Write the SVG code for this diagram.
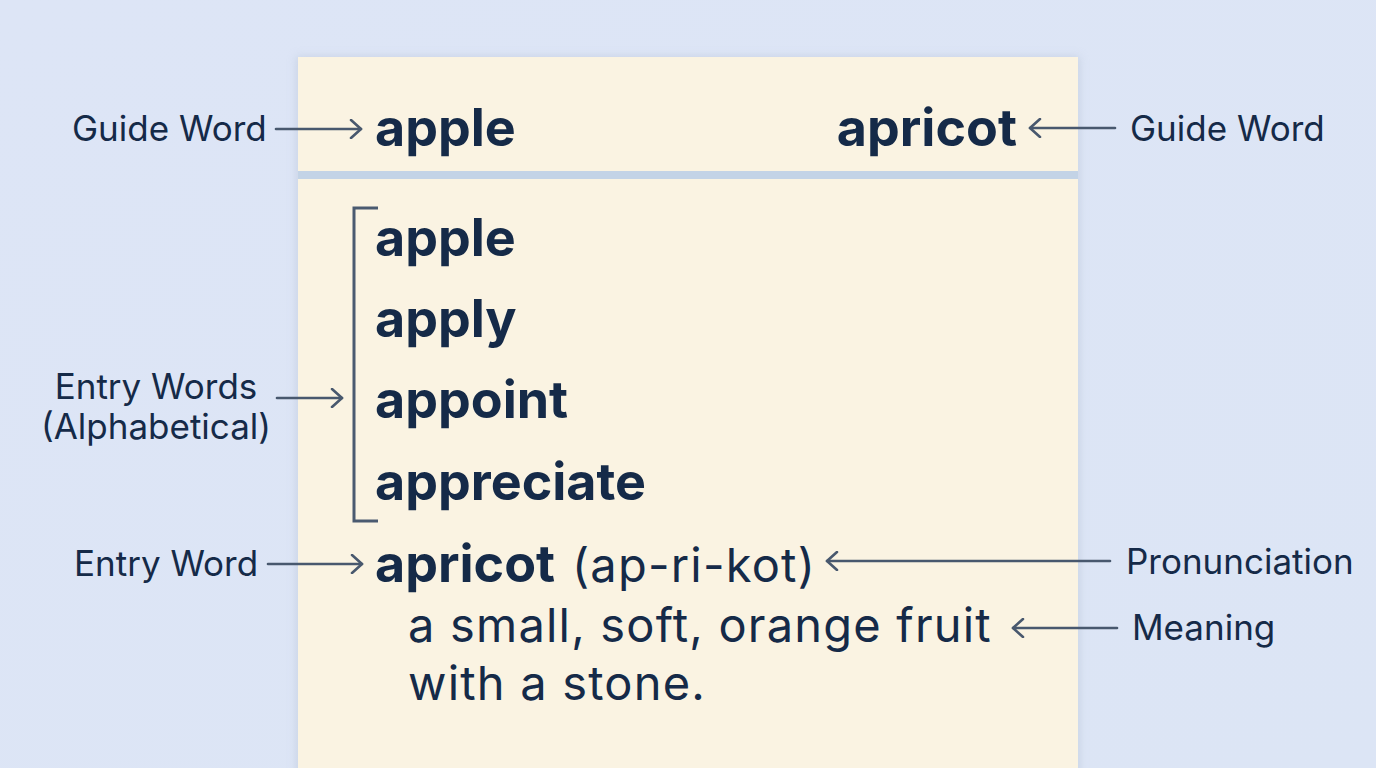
<svg xmlns="http://www.w3.org/2000/svg" width="1376" height="768" viewBox="0 0 1376 768">
<defs>
<linearGradient id="bg" x1="0" y1="0" x2="1" y2="1">
<stop offset="0" stop-color="#dde5f6"/>
<stop offset="1" stop-color="#dce5f5"/>
</linearGradient>
<filter id="sh" x="-5%" y="-5%" width="110%" height="110%">
<feGaussianBlur stdDeviation="4"/>
</filter>
<marker id="ah" viewBox="0 0 20 20" refX="18" refY="10" markerWidth="20" markerHeight="20" markerUnits="userSpaceOnUse" orient="auto">
<path d="M8 1 L18 10 L8 19" fill="none" stroke="#48586e" stroke-width="2.6" stroke-linecap="round" stroke-linejoin="round"/>
</marker>
</defs>
<style>
.lbl{font-family:Inter,"Liberation Sans",sans-serif;font-size:35px;fill:#152a48}
.hw{font-family:Inter,"Liberation Sans",sans-serif;font-weight:700;font-size:52px;fill:#152a48}
.def{font-family:Inter,"Liberation Sans",sans-serif;font-size:47px;letter-spacing:1.2px;fill:#152a48}
.con{fill:none;stroke:#48586e;stroke-width:2.6;stroke-linecap:round;marker-end:url(#ah)}
</style>
<rect width="1376" height="768" fill="url(#bg)"/>
<g id="page">
<rect x="296" y="56" width="784" height="730" fill="#b8c3d6" opacity="0.5" filter="url(#sh)"/>
<rect x="298" y="57" width="780" height="720" fill="#faf3e2"/>
<rect x="298" y="171" width="780" height="8" fill="#c3d3e6"/>
</g>
<g id="guide-left"><text class="hw" x="375" y="146">apple</text></g>
<g id="guide-right"><text class="hw" x="1017" y="146" text-anchor="end">apricot</text></g>
<g id="entries">
<path d="M378 208 H354 V521 H378" fill="none" stroke="#4a5a70" stroke-width="3"/>
<text class="hw" x="375" y="256">apple</text>
<text class="hw" x="375" y="337">apply</text>
<text class="hw" x="375" y="418">appoint</text>
<text class="hw" x="375" y="500">appreciate</text>
</g>
<g id="entry-apricot">
<text x="375" y="582"><tspan class="hw">apricot</tspan><tspan class="def" x="572">(ap-ri-kot)</tspan></text>
<text class="def" x="408" y="642">a small, soft, orange fruit</text>
<text class="def" x="408" y="700">with a stone.</text>
</g>
<g id="labels">
<text class="lbl" x="72" y="141">Guide Word</text>
<text class="lbl" x="1130" y="141">Guide Word</text>
<text class="lbl" x="156" y="399" text-anchor="middle">Entry Words</text>
<text class="lbl" x="156" y="439" text-anchor="middle">(Alphabetical)</text>
<text class="lbl" x="74" y="576">Entry Word</text>
<text class="lbl" x="1126" y="574">Pronunciation</text>
<text class="lbl" x="1132" y="640">Meaning</text>
</g>
<g id="connectors">
<path class="con" d="M276 129 H361"/>
<path class="con" d="M1115 128 H1030"/>
<path class="con" d="M277 398 H342"/>
<path class="con" d="M268 564 H362"/>
<path class="con" d="M1110 561 H827"/>
<path class="con" d="M1117 628 H1013"/>
</g>
</svg>
